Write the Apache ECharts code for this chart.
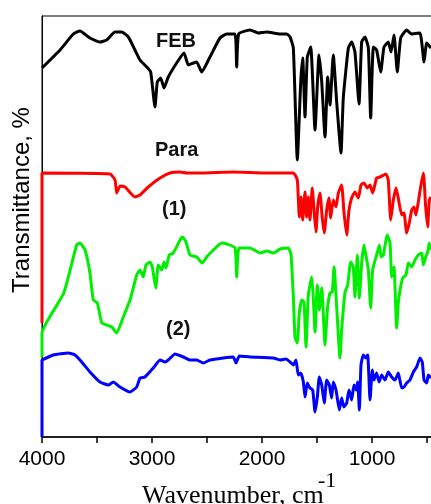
<!DOCTYPE html>
<html>
<head>
<meta charset="utf-8">
<script src="https://cdn.jsdelivr.net/npm/echarts@6/dist/echarts.min.js"></script>
<style>
  html, body { margin: 0; padding: 0; background: #fff; }
  #chart { width: 431px; height: 504px; }
</style>
</head>
<body>
<div id="chart"></div>
<script>
// wavenumber (cm-1) vs transmittance, curves stacked with offsets
const tickValues = [4000, 3500, 3000, 2500, 2000, 1500, 1000, 500];
const labelValues = [4000, 3000, 2000, 1000];

const feb = [
  [4000, 369], [3836, 387], [3715, 403], [3655, 406], [3564, 399], [3473, 395], [3412, 397],
  [3336, 405], [3275, 405], [3215, 400], [3155, 387], [3109, 377], [3048, 370], [3012, 365],
  [2973, 330], [2952, 355], [2921, 359], [2891, 349], [2852, 360], [2776, 374], [2709, 384],
  [2670, 372], [2624, 374], [2594, 375], [2548, 365], [2473, 380], [2382, 399], [2321, 403],
  [2245, 403], [2230, 370], [2212, 403], [2109, 407], [2036, 404], [1957, 405], [1836, 403],
  [1775, 403], [1745, 400], [1715, 389], [1679, 277], [1648, 355], [1630, 379], [1609, 320],
  [1588, 380], [1557, 390], [1518, 307], [1482, 382], [1457, 355], [1427, 300], [1403, 360],
  [1382, 332], [1352, 382], [1321, 335], [1282, 284], [1261, 339], [1215, 389], [1185, 395],
  [1155, 385], [1118, 333], [1094, 395], [1064, 400], [1033, 389], [1012, 319], [988, 390],
  [958, 387], [921, 365], [891, 390], [852, 395], [827, 385], [800, 402], [770, 365],
  [739, 399], [685, 407], [639, 403], [564, 404], [527, 375], [503, 394], [464, 389]
];

const para = [
  [4000, 114], [4000, 264], [3382, 263], [3336, 257], [3321, 244], [3291, 251], [3245, 250],
  [3155, 240], [3109, 242], [3034, 250], [2927, 259], [2836, 264], [2745, 265], [2685, 264],
  [2564, 264], [2261, 265], [1957, 264], [1715, 264], [1679, 257], [1661, 220], [1645, 240],
  [1630, 217], [1609, 245], [1594, 220], [1579, 240], [1564, 217], [1543, 249], [1525, 224],
  [1509, 205], [1494, 230], [1473, 244], [1452, 219], [1434, 204], [1412, 227], [1391, 239],
  [1376, 219], [1352, 237], [1327, 230], [1306, 244], [1276, 252], [1255, 225], [1230, 202],
  [1209, 227], [1185, 239], [1155, 245], [1124, 239], [1100, 252], [1073, 254], [1043, 249],
  [1018, 252], [994, 244], [958, 259], [927, 260], [873, 263], [852, 257], [830, 217],
  [806, 237], [782, 249], [761, 239], [730, 222], [709, 224], [685, 204], [661, 214],
  [639, 227], [618, 230], [600, 222], [579, 235], [558, 250], [533, 264], [512, 230],
  [494, 210], [479, 237], [464, 240]
];

const comp1 = [
  [4000, 80], [4000, 104], [3802, 144], [3685, 192], [3655, 194], [3609, 187], [3564, 164],
  [3534, 137], [3497, 134], [3457, 114], [3412, 112], [3366, 110], [3321, 104], [3261, 120],
  [3200, 137], [3139, 162], [3109, 167], [3079, 160], [3055, 172], [3018, 175], [2997, 170],
  [2966, 149], [2943, 172], [2912, 167], [2891, 175], [2873, 169], [2843, 182], [2806, 184],
  [2745, 197], [2721, 200], [2691, 195], [2655, 182], [2594, 180], [2542, 174], [2503, 180],
  [2442, 187], [2367, 194], [2321, 193], [2245, 189], [2230, 160], [2209, 189], [2109, 189],
  [2018, 184], [1957, 186], [1897, 184], [1836, 188], [1761, 189], [1736, 182], [1715, 140],
  [1700, 100], [1679, 94], [1661, 124], [1639, 137], [1618, 135], [1600, 90], [1579, 142],
  [1548, 160], [1534, 140], [1518, 105], [1497, 152], [1479, 127], [1457, 149], [1427, 92],
  [1406, 127], [1382, 144], [1361, 145], [1345, 170], [1321, 130], [1291, 79], [1276, 107],
  [1245, 145], [1221, 152], [1194, 175], [1170, 170], [1155, 140], [1133, 182], [1115, 139],
  [1094, 174], [1073, 192], [1048, 177], [1033, 167], [1012, 129], [994, 167], [958, 182],
  [933, 192], [918, 180], [897, 182], [873, 197], [861, 202], [836, 194], [821, 160],
  [800, 170], [776, 109], [761, 134], [745, 147], [721, 159], [691, 162], [670, 174],
  [639, 170], [609, 177], [579, 182], [548, 184], [533, 172], [512, 180], [494, 185],
  [479, 194], [464, 187]
];

const comp2 = [
  [4000, 0], [4000, 77], [3994, 77], [3897, 82], [3761, 84], [3700, 82], [3639, 75],
  [3564, 65], [3473, 55], [3397, 52], [3352, 55], [3291, 50], [3200, 45], [3139, 50],
  [3109, 59], [3064, 60], [2988, 69], [2927, 77], [2882, 75], [2852, 77], [2791, 83],
  [2715, 80], [2655, 77], [2594, 77], [2533, 74], [2473, 77], [2352, 79], [2261, 80],
  [2236, 74], [2206, 81], [2109, 80], [1897, 79], [1836, 77], [1782, 78], [1745, 75],
  [1715, 72], [1691, 77], [1670, 62], [1648, 64], [1624, 55], [1609, 40], [1588, 54],
  [1564, 49], [1539, 47], [1518, 25], [1497, 40], [1479, 60], [1457, 52], [1434, 34],
  [1412, 57], [1388, 52], [1367, 39], [1352, 55], [1327, 47], [1297, 27], [1276, 39],
  [1255, 30], [1230, 34], [1209, 47], [1185, 37], [1164, 52], [1145, 47], [1130, 55],
  [1115, 27], [1100, 72], [1079, 82], [1055, 79], [1039, 82], [1018, 37], [997, 67],
  [982, 57], [958, 64], [936, 55], [912, 62], [882, 57], [852, 65], [821, 60],
  [791, 57], [761, 64], [730, 49], [709, 50], [685, 54], [655, 57], [624, 65],
  [594, 70], [564, 79], [543, 75], [527, 57], [503, 54], [488, 62], [464, 59]
];

const chart = echarts.init(document.getElementById("chart"));

const line = (name, data, color) => ({
  name: name,
  type: "line",
  data: data,
  showSymbol: false,
  smooth: 0.15,
  lineStyle: { color: color, width: 3 },
  itemStyle: { color: color },
  z: 3,
});

const labelStyle = {
  fontFamily: "Liberation Sans, Arial",
  fontSize: 20,
  fontWeight: "bold",
  fill: "#111",
  align: "center",
  verticalAlign: "middle",
};

const serif = "Liberation Serif, Times New Roman";

chart.setOption({
  animation: false,
  // plot runs past the right edge of the picture (axis ends at 400 cm-1)
  grid: {
    left: 42, width: 396, top: 16, bottom: 67,
    outerBoundsMode: "none", containLabel: false,
    show: true, borderColor: "#000", borderWidth: 1,
  },
  xAxis: {
    type: "value",
    inverse: true,
    min: 400,
    max: 4000,
    splitLine: { show: false },
    axisLine: { lineStyle: { color: "#000", width: 1.5 } },
    axisTick: { customValues: tickValues, length: 6, inside: false, lineStyle: { color: "#000", width: 1.5 } },
    axisLabel: {
      customValues: labelValues,
      formatter: (v) => String(v),
      color: "#000",
      fontFamily: "Liberation Sans, Arial",
      fontSize: 21,
      margin: 12,
    },
  },
  yAxis: {
    type: "value",
    min: 0,
    max: 421,
    splitLine: { show: false },
    axisTick: { show: false },
    axisLabel: { show: false },
    axisLine: { show: true, lineStyle: { color: "#000", width: 1 } },
  },
  graphic: [
    {
      type: "text", x: 22, y: 200, rotation: Math.PI / 2,
      style: { text: "Transmittance, %", fontFamily: "Liberation Sans, Arial", fontSize: 24, fill: "#000", align: "center", verticalAlign: "middle" },
    },
    {
      type: "text", x: 142, y: 509,
      style: { text: "Wavenumber, cm", fontFamily: serif, fontSize: 26, fill: "#000", align: "left", verticalAlign: "bottom" },
    },
    {
      type: "text", x: 318, y: 492,
      style: { text: "-1", fontFamily: serif, fontSize: 22, fill: "#000", align: "left", verticalAlign: "bottom" },
    },
    { type: "text", left: 156, top: 31, style: Object.assign({ text: "FEB" }, labelStyle) },
    { type: "text", left: 155, top: 140, style: Object.assign({ text: "Para" }, labelStyle) },
    { type: "text", left: 162, top: 199, style: Object.assign({ text: "(1)" }, labelStyle) },
    { type: "text", left: 166, top: 319, style: Object.assign({ text: "(2)" }, labelStyle) },
  ],
  series: [
    line("FEB", feb, "#000000"),
    line("Para", para, "#ff0000"),
    line("(1)", comp1, "#00ee00"),
    line("(2)", comp2, "#0000ff"),
  ],
});
</script>
</body>
</html>
